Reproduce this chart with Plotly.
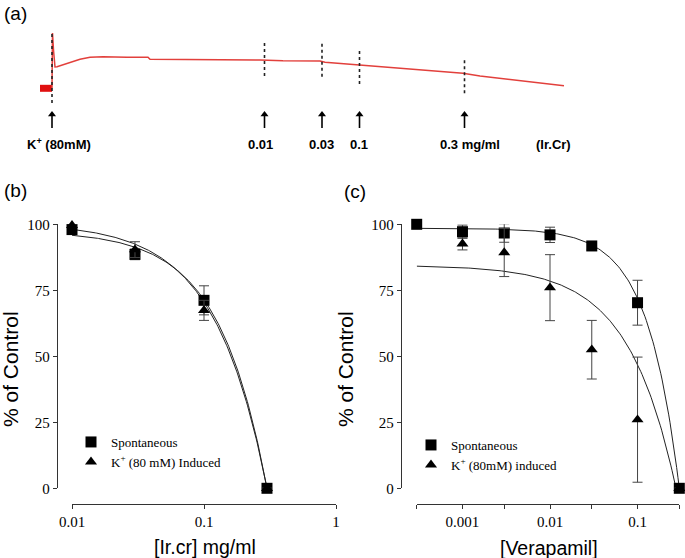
import numpy as np
import plotly.graph_objects as go

W, H = 685, 558

# ---------------- Panel (a): isometric tension recording ----------------
trace_time = [0.0, 0.02, 0.06, 0.12, 0.2, 0.59, 1.12, 1.52, 2.04, 3.0, 3.84, 3.92,
              5.92, 8.32, 9.24, 9.92, 10.72, 10.92, 12.32, 13.52, 15.12, 16.44,
              17.12, 18.44, 20.48]
trace_tension = [0.67, 6.2, 4.5, 2.8, 2.83, 3.17, 3.57, 3.77, 3.83, 3.77, 3.77, 3.57,
                 3.57, 3.5, 3.43, 3.4, 3.4, 3.27, 3.0, 2.73, 2.43, 2.17,
                 1.9, 1.5, 0.93]
baseline_time = [-0.48, 0.0]
baseline_tension = [0.67, 0.67]
dose_time = [0.0, 8.5, 10.8, 12.3, 16.5]
dose_labels = ["K<sup>+</sup> (80mM)", "0.01", "0.03", "0.1", "0.3 mg/ml"]
mark_top = [6.3, 5.23, 5.17, 4.43, 3.5]
mark_bottom = [-0.8, 1.9, 1.83, 1.1, 0.17]

# ---------------- Panel (b): Ir.Cr ----------------
b_conc = [0.01, 0.03, 0.1, 0.3]
b_spont = [98.0, 88.6, 71.2, 0.0]
b_spont_err = [1.0, 2.0, 5.5, 0.0]
b_k = [99.6, 90.4, 67.4, 0.0]
b_k_err = [0.5, 3.0, 3.8, 0.0]
b_fit_spont = (97.5, 1.2, 0.3)   # top, slope, concentration of full relaxation
b_fit_k = (100.5, 1.1, 0.3)
b_xticks = [0.01, 0.1, 1]
b_xticklabels = ["0.01", "0.1", "1"]

# ---------------- Panel (c): Verapamil ----------------
c_conc_spont = [0.0003, 0.001, 0.003, 0.01, 0.03, 0.1, 0.3]
c_spont = [100.0, 97.2, 96.7, 96.0, 91.8, 70.3, 0.0]
c_spont_err = [0.0, 2.5, 3.5, 2.9, 1.5, 8.5, 0.0]
c_conc_k = [0.001, 0.003, 0.01, 0.03, 0.1, 0.3]
c_k = [92.6, 89.3, 76.0, 52.5, 26.0, 0.0]
c_k_err = [2.3, 9.1, 12.5, 11.1, 23.7, 0.0]
c_fit_spont = (98.5, 1.195, 0.3)
c_fit_k = (84.5, 0.8, 0.275)
c_xticks = [0.001, 0.01, 0.1]
c_xticklabels = ["0.001", "0.01", "0.1"]
c_xminor = [0.0003, 0.003, 0.03, 0.3]

y_ticks = [0, 25, 50, 75, 100]


def fit_curve(x0, params):
    top, h, xmax = params
    x = np.logspace(np.log10(x0), np.log10(xmax), 200)
    return x, top * (1 - (x / xmax) ** h)


def px(x):
    return x / W


def py(y):
    return 1 - y / H


SERIF = "Times New Roman, Liberation Serif, serif"
SANS = "Arial, Liberation Sans, sans-serif"
LINE = "#333333"

fig = go.Figure()

# ---- panel (a) traces
fig.add_trace(go.Scatter(x=baseline_time, y=baseline_tension, mode="lines",
                         line=dict(color="#e01010", width=7), xaxis="x3", yaxis="y3",
                         showlegend=False))
fig.add_trace(go.Scatter(x=trace_time, y=trace_tension, mode="lines",
                         line=dict(color="#e2403c", width=1.5), xaxis="x3", yaxis="y3",
                         showlegend=False))
mx, my = [], []
for t, lo, hi in zip(dose_time, mark_bottom, mark_top):
    mx += [t, t, None]
    my += [lo, hi, None]
fig.add_trace(go.Scatter(x=mx, y=my, mode="lines",
                         line=dict(color="#222222", width=1.6, dash="dot"),
                         xaxis="x3", yaxis="y3", showlegend=False))
# addition arrows below the recording
ARROW_TAIL, ARROW_NECK, ARROW_HEAD = -3.3, -2.05, -1.95
ax_, ay_ = [], []
for t in dose_time:
    ax_ += [t, t, None]
    ay_ += [ARROW_TAIL, ARROW_NECK, None]
fig.add_trace(go.Scatter(x=ax_, y=ay_, mode="lines", line=dict(color="black", width=1.6),
                         xaxis="x3", yaxis="y3", showlegend=False, hoverinfo="skip"))
fig.add_trace(go.Scatter(x=dose_time, y=[ARROW_HEAD] * len(dose_time), mode="markers",
                         marker=dict(symbol="triangle-up", size=7, color="black"),
                         xaxis="x3", yaxis="y3", showlegend=False, hoverinfo="skip",
                         cliponaxis=False))

# ---- panel (b)
for params in (b_fit_spont, b_fit_k):
    fx, fy = fit_curve(b_conc[0], params)
    fig.add_trace(go.Scatter(x=fx, y=fy, mode="lines", line=dict(color="#222222", width=1),
                             xaxis="x", yaxis="y", showlegend=False, hoverinfo="skip"))
fig.add_trace(go.Scatter(x=b_conc, y=b_spont, mode="markers", name="Spontaneous",
                         marker=dict(symbol="square", size=11, color="black"),
                         error_y=dict(type="data", array=b_spont_err, color="#444444",
                                      thickness=1, width=5),
                         xaxis="x", yaxis="y", cliponaxis=False, legend="legend"))
fig.add_trace(go.Scatter(x=b_conc, y=b_k, mode="markers",
                         name="K<sup>+</sup> (80 mM) Induced",
                         marker=dict(symbol="triangle-up", size=10.5, color="black"),
                         error_y=dict(type="data", array=b_k_err, color="#444444",
                                      thickness=1, width=5),
                         xaxis="x", yaxis="y", cliponaxis=False, legend="legend"))

# ---- panel (c)
fx, fy = fit_curve(c_conc_spont[0], c_fit_spont)
fig.add_trace(go.Scatter(x=fx, y=fy, mode="lines", line=dict(color="#222222", width=1),
                         xaxis="x2", yaxis="y2", showlegend=False, hoverinfo="skip"))
fx, fy = fit_curve(c_conc_spont[0], c_fit_k)
fig.add_trace(go.Scatter(x=fx, y=fy, mode="lines", line=dict(color="#222222", width=1),
                         xaxis="x2", yaxis="y2", showlegend=False, hoverinfo="skip"))
fig.add_trace(go.Scatter(x=c_conc_spont, y=c_spont, mode="markers", name="Spontaneous",
                         marker=dict(symbol="square", size=11, color="black"),
                         error_y=dict(type="data", array=c_spont_err, color="#444444",
                                      thickness=1, width=5),
                         xaxis="x2", yaxis="y2", cliponaxis=False, legend="legend2"))
fig.add_trace(go.Scatter(x=c_conc_k, y=c_k, mode="markers",
                         name="K<sup>+</sup> (80mM) induced",
                         marker=dict(symbol="triangle-up", size=10.5, color="black"),
                         error_y=dict(type="data", array=c_k_err, color="#444444",
                                      thickness=1, width=5),
                         xaxis="x2", yaxis="y2", cliponaxis=False, legend="legend2"))

axis_common = dict(showline=True, linecolor=LINE, linewidth=1.3, ticks="outside",
                   ticklen=4, tickwidth=1.3, tickcolor=LINE, showgrid=False,
                   zeroline=False, tickfont=dict(family=SERIF, size=15, color="black"),
                   anchor="free", automargin=False)
y_dom = [py(488.3), py(224.3)]

fig.update_layout(
    width=W, height=H,
    margin=dict(l=0, r=0, t=0, b=0, pad=0, autoexpand=False),
    paper_bgcolor="white", plot_bgcolor="white",
    xaxis=dict(axis_common, type="log", domain=[px(72), px(336)], range=[-2, 0],
               tickvals=b_xticks, ticktext=b_xticklabels, position=py(503.5)),
    yaxis=dict(axis_common, domain=y_dom, range=[0, 100], tickvals=y_ticks,
               position=px(57)),
    xaxis2=dict(axis_common, type="log", domain=[px(416.7), px(679.3)],
                range=[np.log10(0.0003), np.log10(0.3)],
                tickvals=c_xticks, ticktext=c_xticklabels,
                minor=dict(tickvals=c_xminor, ticks="outside", ticklen=4, tickwidth=1.3,
                           tickcolor=LINE, showgrid=False),
                position=py(503.5)),
    yaxis2=dict(axis_common, domain=y_dom, range=[0, 100], tickvals=y_ticks,
                position=px(401)),
    xaxis3=dict(domain=[0, 1], range=[-2.08, 25.32], visible=False, anchor="y3"),
    yaxis3=dict(domain=[py(130), py(15)], range=[-3.5, 8.0], visible=False, anchor="x3"),
    legend=dict(x=px(71), y=py(427), xanchor="left", yanchor="top",
                font=dict(family=SERIF, size=13, color="black"),
                bgcolor="rgba(0,0,0,0)", tracegroupgap=0),
    legend2=dict(x=px(411), y=py(430), xanchor="left", yanchor="top",
                 font=dict(family=SERIF, size=13, color="black"),
                 bgcolor="rgba(0,0,0,0)", tracegroupgap=0),
)

ann = []
# labels for panel (a)
label_shift = [7, -4, -1, -1, 5]
for t, lab, sh in zip(dose_time, dose_labels, label_shift):
    ann.append(dict(x=t, xref="x3", y=py(144), yref="paper", text="<b>%s</b>" % lab,
                    showarrow=False, xanchor="center", yanchor="middle", xshift=sh,
                    font=dict(family=SANS, size=13, color="black")))
ann.append(dict(x=px(553.5), xref="paper", y=py(144), yref="paper", text="<b>(Ir.Cr)</b>",
                showarrow=False, xanchor="center", yanchor="middle",
                font=dict(family=SANS, size=13, color="black")))
# panel letters
for lab, x, y in (("(a)", 2, 13.5), ("(b)", 2, 190.5), ("(c)", 342, 191)):
    ann.append(dict(x=px(x), y=py(y), xref="paper", yref="paper", text=lab,
                    showarrow=False, xanchor="left", yanchor="middle",
                    font=dict(family=SANS, size=19, color="black")))
# axis titles
for x in (10, 345):
    ann.append(dict(x=px(x), y=py(369), xref="paper", yref="paper", text="% of Control",
                    textangle=-90, showarrow=False, xanchor="center", yanchor="middle",
                    font=dict(family=SANS, size=21, color="black")))
ann.append(dict(x=px(205), y=py(547), xref="paper", yref="paper", text="[Ir.cr] mg/ml",
                showarrow=False, xanchor="center", yanchor="middle",
                font=dict(family=SANS, size=19.5, color="black")))
ann.append(dict(x=px(548.5), y=py(548), xref="paper", yref="paper", text="[Verapamil]",
                showarrow=False, xanchor="center", yanchor="middle",
                font=dict(family=SANS, size=19.5, color="black")))
fig.update_layout(annotations=ann)

fig.write_html("out.html", config={"displayModeBar": False},
               post_script="document.body.style.margin='0px';"
                           "document.body.style.overflow='hidden';")
